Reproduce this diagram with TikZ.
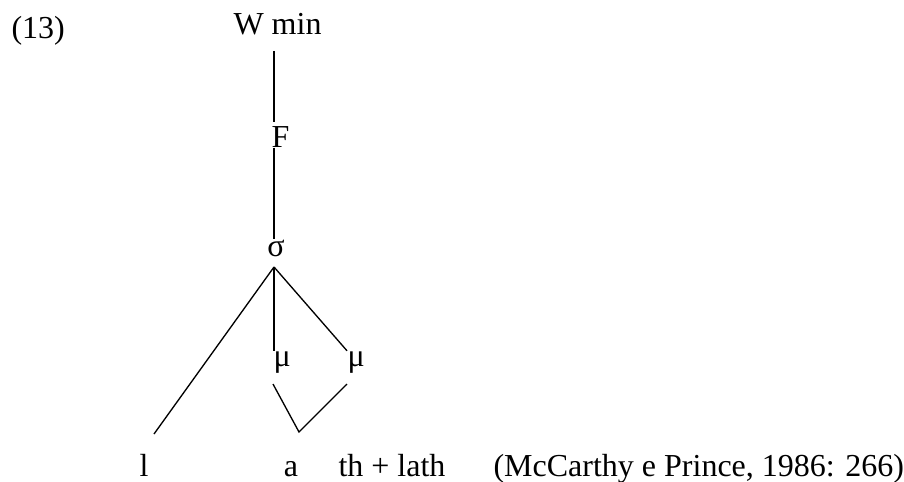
\documentclass[tikz,border=0pt]{standalone}
\usepackage{fontspec}
\setmainfont{Liberation Serif}
\usetikzlibrary{positioning}

\begin{document}
\begin{tikzpicture}[
    x=0.375pt, y=-0.375pt,
    word/.style={font=\fontsize{12}{14}\selectfont, inner sep=0pt},
    branch/.style={draw=black, line width=0.5pt},
]
\useasboundingbox (0,0) rectangle (904,481);

% ---------------------------------------------------------
% Labels of the tree
% ---------------------------------------------------------
\node[word,anchor=base west] (ex)    at (11,39)   {(13)};
\node[word,anchor=base west] (wmin)  at (233,35)  {W min};
\node[word,anchor=base west] (foot)  at (271,147) {F};
\node[word,anchor=base]      (sigma) at (276,256) {σ};
\node[word,anchor=base west] (mua)   at (273,366) {μ};
\node[word,anchor=base west] (mub)   at (347,366) {μ};

\node[word,anchor=base]      (segl)  at (144,476) {l};
\node[word,anchor=base]      (sega)  at (291,476) {a};
\node[word,anchor=base west] (segth) at (338,476) {th + lath};
\node[word,anchor=base west] (cite)  at (493,476) {(McCarthy e Prince, 1986: 266)};

\coordinate (apex)  at (274,267);
\coordinate (lend)  at (154,434);
\coordinate (vtip)  at (299,432);

% ---------------------------------------------------------
% Branches
% ---------------------------------------------------------
\draw[branch,shorten <=5.6pt,shorten >=1.5pt]
  (wmin.south -| apex) -- (foot.north -| apex);
\draw[branch] (foot.south -| apex) -- (sigma.north -| apex);

\draw[branch] (apex) -- (lend);
\draw[branch] (apex) -- (apex |- mua.north);
\draw[branch] (apex) -- (mub.north west);

\draw[branch]
  ([yshift=-4pt]mua.south west) -- (vtip) -- ([yshift=-4pt]mub.south west);
\end{tikzpicture}
\end{document}
